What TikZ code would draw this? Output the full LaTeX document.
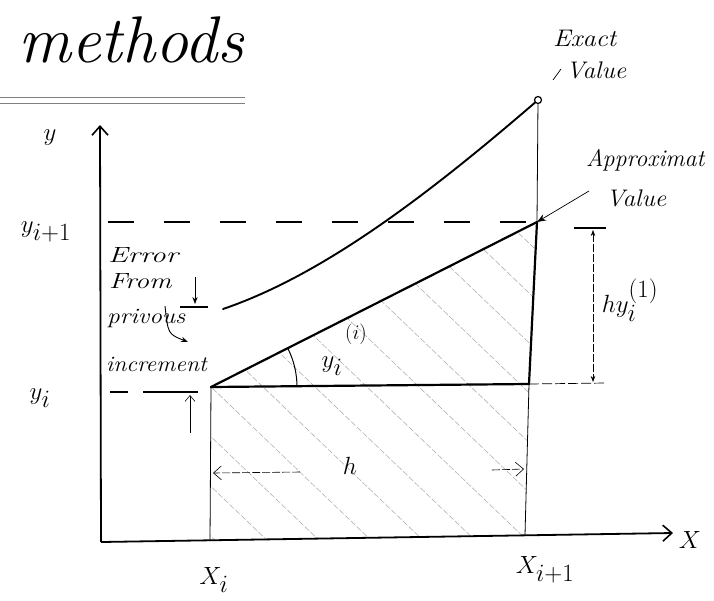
\documentclass[tikz,border=0pt]{standalone}
\usetikzlibrary{arrows.meta}
\begin{document}
\begin{tikzpicture}[x=1pt,y=-1pt,
  thickline/.style={line width=2.2pt,line cap=round},
  axis/.style={line width=1.8pt,-{Straight Barb[length=9pt,width=16pt,line width=1.6pt]}},
  thinline/.style={line width=0.8pt},
  hatchline/.style={line width=0.5pt,gray!70,dash pattern=on 6pt off 2pt},
  dimline/.style={line width=0.6pt,dash pattern=on 8pt off 2pt},
  hand/.style={font=\itshape\fontsize{24}{24}\selectfont,inner sep=0pt},
  small/.style={font=\itshape\fontsize{22}{22}\selectfont,inner sep=0pt},
  mlabel/.style={font=\fontsize{36}{38}\selectfont,inner sep=0pt}]
\useasboundingbox (0,0) rectangle (714,600);
% key points
\coordinate (O) at (101,542);
\coordinate (Ytop) at (100,125);
\coordinate (Xend) at (673,533);
\coordinate (Pi) at (211,387);
\coordinate (Pa) at (537,222);
\coordinate (Pe) at (538,100);
\coordinate (Pc) at (529,384);
\coordinate (Xi) at (210,541);
\coordinate (Xj) at (525,535);
% title
\node[font=\itshape\fontsize{66}{66}\selectfont,inner sep=0pt,anchor=base west] (title) at (18,62) {methods};
\draw[line width=0.8pt,gray] (0,97) coordinate (d1) -- (245,97) coordinate (d2);
\draw[line width=0.8pt,gray] (0,103) coordinate (d3) -- (245,103) coordinate (d4);
% hatching
\begin{scope}
\clip (Pi) -- (Pa) -- (Pc) -- (Xj) -- (Xi) -- cycle;
\foreach \t in {-400,-348,...,560} {
  \draw[hatchline] (\t,200) -- (\t+360,545);
}
\end{scope}
% axes
\draw[axis] (O) -- (Ytop);
\draw[axis] (O) -- (Xend);
% vertical guides
\draw[thinline] (Xi) -- (Pi);
\draw[thinline] (Xj) -- (Pc);
\draw[thickline] (Pc) -- (Pa);
\draw[thinline] (Pa) -- (Pe);
% dashed y_{i+1}
\draw[line width=1.2pt,dash pattern=on 26pt off 30pt] (108,222) coordinate (dl) -- (Pa);
% dashed y_i
\draw[line width=1.3pt] (110,392) coordinate (dy1) -- (128,392) coordinate (dy2);
\draw[line width=1.3pt] (143,392) coordinate (dy3) -- (198,392) coordinate (dy4);
% main lines
\draw[thickline] (Pi) -- (Pa);
\draw[thickline] (Pi) -- (Pc);
\draw[line width=0.7pt,dash pattern=on 10pt off 3pt] (Pc) -- (606,383) coordinate (Pr);
% exact curve
\coordinate (Cs) at (223,309);
\draw[line width=1.9pt,line cap=round] (Cs) .. controls (323,275) and (428,195) .. (Pe);
\filldraw[fill=white,line width=1.2pt] (Pe) circle (3.5pt);
% angle arc
\draw[line width=1pt] (Pi) ++(86,0) arc[start angle=0,end angle=-26.8,radius=86];
% y_i^{(i)} label
\node[mlabel] (slope) at (332,366) {$y_i$};
\node[font=\fontsize{22}{22}\selectfont,inner sep=0pt] (sup) at (356,334) {$(i)$};
% error arrows
\coordinate (e1) at (195,277);
\coordinate (e2) at (195,304);
\draw[line width=0.9pt,-{Stealth[length=7pt]}] (e1) -- (e2);
\draw[line width=1.2pt] (180,307) coordinate (t1) -- (208,307) coordinate (t2);
\coordinate (u1) at (190,433);
\coordinate (u2) at (190,395);
\draw[line width=0.6pt,-{Straight Barb[length=6pt,width=10pt]}] (u1) -- (u2);
\coordinate (c1) at (165,306);
\coordinate (c2) at (188,342);
\draw[line width=0.9pt,-{Stealth[length=7pt]}] (c1) .. controls (168,334) .. (c2);
% error text
\node[small,anchor=west] (err) at (108,255) {\scalebox{1.35}[1]{Error}};
\node[small,anchor=west] (from) at (109,281) {\scalebox{1.27}[1]{From}};
\node[small,anchor=west] (prev) at (107,318) {\scalebox{1.15}[1]{privous}};
\node[small,anchor=west] (incr) at (106,364) {\scalebox{1.08}[1]{increment}};
% h dimension
\coordinate (h1) at (300,472);
\coordinate (h2) at (213,473);
\coordinate (h3) at (492,470);
\coordinate (h4) at (524,469);
\draw[dimline,-{Straight Barb[length=8pt,width=14pt]}] (h1) -- (h2);
\draw[dimline,-{Straight Barb[length=8pt,width=14pt]}] (h3) -- (h4);
\node[font=\fontsize{44}{44}\selectfont,inner sep=0pt] (hlab) at (350,466) {$h$};
% right dimension
\coordinate (r1) at (593,230);
\coordinate (r2) at (593,382);
\draw[line width=1.2pt] (574,228) coordinate (rt1) -- (606,228) coordinate (rt2);
\draw[dimline,{Stealth[length=6pt]}-{Stealth[length=6pt]}] (r1) -- (r2);
\node[mlabel] (hy) at (630,300) {$hy_i^{(1)}$};
% axis labels
\node[mlabel] (ylab) at (50,138) {$y$};
\node[mlabel] (yi1) at (46,232) {$y_{i+1}$};
\node[mlabel] (yi) at (40,398) {$y_i$};
\node[mlabel] (xi) at (214,580) {$X_i$};
\node[mlabel] (xi1) at (545,570) {$X_{i+1}$};
\node[mlabel] (xlab) at (690,540) {$X$};
% exact value
\node[hand,anchor=west] (ex1) at (553,38) {\scalebox{1.1}[1]{Exact}};
\node[hand,anchor=west] (ex2) at (566,70) {\scalebox{1.05}[1]{Value}};
\draw[line width=0.7pt] (553,80) coordinate (m1) -- (561,69) coordinate (m2);
% approximate value
\node[hand,anchor=west] (ap1) at (586,160) {Approximat};
\node[hand,anchor=west] (ap2) at (606,198) {\scalebox{1.05}[1]{Value}};
\coordinate (a1) at (589,191);
\draw[line width=0.7pt,-{Stealth[length=9pt]}] (a1) -- (Pa);
\end{tikzpicture}
\end{document}
